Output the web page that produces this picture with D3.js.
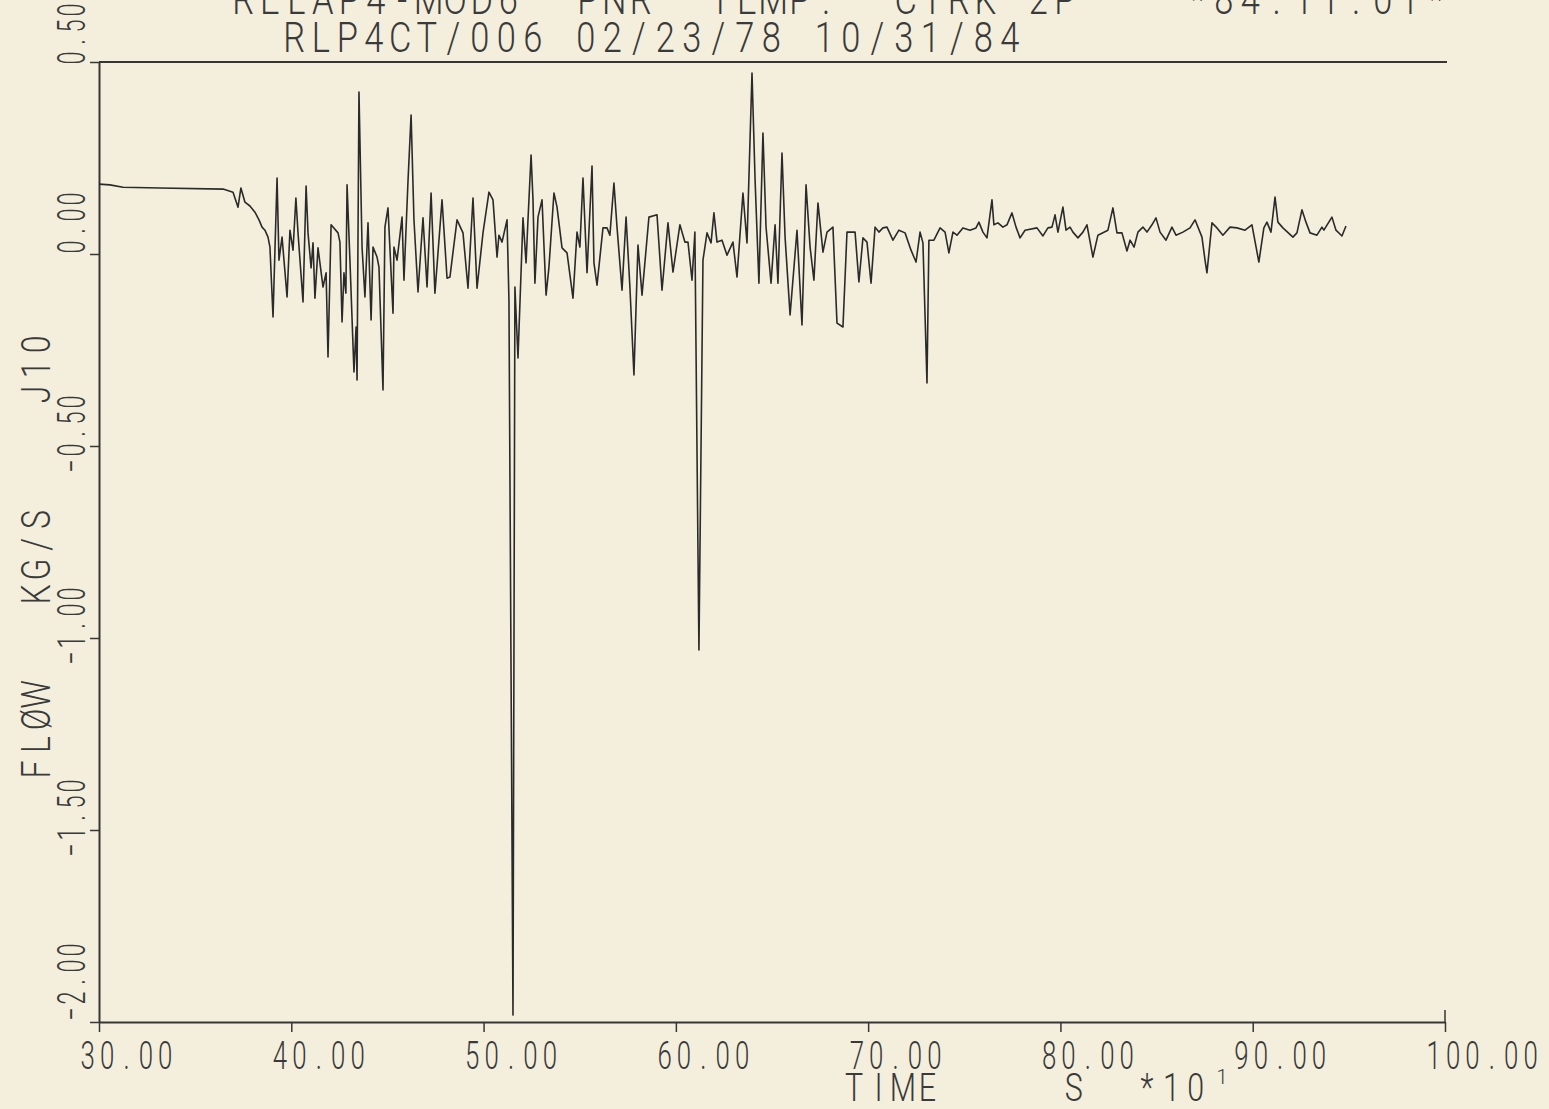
<!DOCTYPE html>
<html>
<head>
<meta charset="utf-8">
<script src="https://cdn.jsdelivr.net/npm/d3@7"></script>
<style>
html,body{margin:0;padding:0;background:#f3efdc;}
svg{display:block;}
text{font-family:"Roboto","DejaVu Sans",sans-serif;font-weight:300;fill:#3a3a3a;white-space:pre;}
</style>
</head>
<body>
<svg id="chart" width="1549" height="1109"></svg>
<script>
// ---- data (time in s*10^1, flow in kg/s) ----
const time = [30.00,30.57,31.25,33.17,36.45,36.97,37.23,37.38,37.59,37.85,38.11,38.32,38.48,38.63,38.79,38.89,39.05,39.15,39.26,39.36,39.52,39.78,39.93,40.09,40.24,40.35,40.61,40.77,40.87,41.03,41.13,41.23,41.39,41.65,41.81,41.91,42.07,42.43,42.53,42.64,42.74,42.84,42.90,43.05,43.26,43.37,43.42,43.52,43.68,43.83,43.99,44.15,44.25,44.46,44.56,44.77,44.87,45.03,45.29,45.34,45.50,45.76,45.86,46.07,46.23,46.38,46.59,46.85,47.06,47.27,47.47,47.84,48.10,48.25,48.62,48.93,49.19,49.45,49.66,49.97,50.28,50.49,50.70,50.80,50.96,51.22,51.32,51.53,51.63,51.79,52.05,52.21,52.31,52.47,52.57,52.67,52.83,53.04,53.25,53.40,53.66,53.82,54.08,54.34,54.65,54.86,55.01,55.17,55.38,55.64,55.74,55.90,56.21,56.42,56.57,56.78,56.94,57.20,57.41,57.61,57.82,58.03,58.24,58.60,59.02,59.28,59.59,59.85,60.21,60.47,60.63,60.84,60.99,61.20,61.41,61.62,61.83,61.98,62.14,62.40,62.66,62.97,63.18,63.49,63.70,63.96,64.12,64.32,64.53,64.69,64.95,65.16,65.31,65.52,65.68,65.94,66.30,66.56,66.77,66.98,67.18,67.39,67.65,67.86,68.17,68.38,68.69,68.90,69.32,69.52,69.73,69.94,70.15,70.36,70.56,70.77,70.98,71.29,71.60,71.92,72.23,72.49,72.70,72.85,73.06,73.16,73.42,73.74,74.00,74.20,74.41,74.62,74.93,75.30,75.61,75.76,75.97,76.18,76.44,76.54,76.75,77.01,77.22,77.48,77.69,77.90,78.16,78.78,79.09,79.35,79.56,79.72,79.87,80.13,80.29,80.50,80.65,80.91,81.17,81.38,81.69,81.95,82.47,82.73,82.94,83.20,83.46,83.62,83.83,84.03,84.29,84.50,84.76,84.97,85.18,85.49,85.80,86.01,86.37,86.74,87.00,87.36,87.52,87.62,87.88,88.14,88.45,88.82,89.18,89.60,89.96,90.32,90.58,90.74,90.95,91.16,91.31,91.57,92.09,92.30,92.56,92.77,92.98,93.34,93.60,93.70,94.12,94.33,94.64,94.85];
const flow = [0.182,0.180,0.174,0.172,0.169,0.161,0.122,0.172,0.135,0.125,0.109,0.089,0.070,0.062,0.044,0.018,-0.164,0.010,0.198,-0.016,0.044,-0.112,0.062,0.010,0.146,0.055,-0.125,0.177,0.055,-0.036,0.029,-0.115,0.016,-0.086,-0.049,-0.268,0.076,0.055,0.031,-0.177,-0.049,-0.102,0.180,-0.016,-0.307,-0.190,-0.328,0.422,0.018,-0.112,0.081,-0.172,0.018,-0.008,-0.034,-0.354,0.070,0.120,-0.154,0.018,-0.016,0.096,-0.068,0.190,0.362,0.089,-0.099,0.094,-0.086,0.159,-0.102,0.141,-0.063,-0.060,0.089,0.055,-0.089,0.146,-0.089,0.055,0.161,0.141,-0.008,0.049,0.031,0.089,-0.120,-1.982,-0.086,-0.271,0.094,-0.023,0.089,0.258,0.141,-0.076,0.096,0.141,-0.107,-0.034,0.159,0.122,0.016,0.003,-0.115,0.057,0.018,0.198,-0.049,0.229,-0.023,-0.081,0.068,0.068,0.049,0.185,0.070,-0.094,0.096,-0.086,-0.315,0.023,-0.107,0.096,0.102,-0.094,0.081,-0.047,0.076,0.031,0.031,-0.068,0.057,-1.031,-0.016,0.055,0.029,0.107,0.031,0.036,-0.003,0.031,-0.060,0.159,0.029,0.471,0.193,-0.076,0.315,0.070,-0.076,0.076,-0.076,0.263,0.044,-0.159,0.062,-0.185,0.180,0.018,-0.068,0.133,0.005,0.057,0.070,-0.180,-0.190,0.057,0.057,-0.073,0.042,0.031,-0.076,0.070,0.057,0.068,0.070,0.036,0.062,0.055,0.010,-0.021,0.057,0.029,-0.336,0.036,0.036,0.068,0.057,0.003,0.057,0.049,0.068,0.062,0.068,0.083,0.057,0.042,0.141,0.076,0.081,0.070,0.076,0.107,0.070,0.042,0.062,0.068,0.047,0.068,0.070,0.102,0.057,0.122,0.062,0.070,0.057,0.042,0.057,0.076,-0.008,0.049,0.062,0.120,0.055,0.055,0.008,0.036,0.018,0.057,0.070,0.057,0.076,0.094,0.057,0.036,0.070,0.049,0.057,0.068,0.089,0.044,-0.016,-0.049,0.081,0.068,0.049,0.070,0.068,0.062,0.076,-0.021,0.068,0.083,0.057,0.148,0.083,0.068,0.044,0.055,0.115,0.083,0.055,0.049,0.070,0.062,0.096,0.062,0.047,0.073];

const xTicks = [30,40,50,60,70,80,90,100];
const yTicks = [0.5,0,-0.5,-1,-1.5,-2];
const titleLine1 = "RELAP4-MOD6  PNR  TEMP.  CIRK 2P    *84.11.01*";
const titleLine2 = "RLP4CT/006 02/23/78 10/31/84";
const yTitle = "FLØW   KG/S    J10";
const xTitle = "TIME     S  *10";
const xTitleExp = "1";

// ---- drawing ----
const svg = d3.select("#chart");
const ink = "#363636";
const x = d3.scaleLinear().domain([30,100]).range([99,1445]);
const y = d3.scaleLinear().domain([-2,0.5]).range([1022,62]);
const fmt = d3.format(".2f");

// plotter-style fixed-pitch text: every character centred in its own cell
function mono(parent, str, x0, y0, adv, size, sx, rotated){
  const g = parent.append("g")
    .attr("transform", `translate(${x0},${y0})` + (rotated ? " rotate(-90)" : ""));
  const chars = Array.from(str);
  g.append("text").attr("transform",`scale(${sx},1)`)
    .attr("text-anchor","middle").style("font-size",size+"px")
    .attr("x", chars.map((c,i)=>((i+0.5)*adv/sx).toFixed(2)).join(" "))
    .attr("y",0).text(str);
  return g;
}

// top frame line
svg.append("line").attr("x1",x(30)).attr("x2",x(100)+2)
  .attr("y1",y(0.5)).attr("y2",y(0.5)).attr("stroke",ink).attr("stroke-width",2);

// bottom axis
const xAxis = d3.axisBottom(x).tickValues(xTicks).tickSize(10).tickSizeOuter(0).tickFormat(fmt);
const gx = svg.append("g").attr("transform",`translate(0,${y(-2)})`).call(xAxis);
gx.select(".domain").attr("stroke",ink).attr("stroke-width",2);
gx.selectAll(".tick line").attr("stroke",ink).attr("stroke-width",1.5);
gx.selectAll(".tick text").remove();
xTicks.forEach(t=>mono(svg, fmt(t), x(t)-21, 1069, 19.4, 38, 0.68, false));
// end tick going up at 100
svg.append("line").attr("x1",x(100)).attr("x2",x(100)).attr("y1",y(-2)-12).attr("y2",y(-2))
  .attr("stroke",ink).attr("stroke-width",1.5);

// left axis
const yAxis = d3.axisLeft(y).tickValues(yTicks).tickSize(9).tickSizeOuter(0).tickFormat(fmt);
const gy = svg.append("g").attr("transform",`translate(${x(30)},0)`).call(yAxis);
gy.select(".domain").attr("stroke",ink).attr("stroke-width",2);
gy.selectAll(".tick line").attr("stroke",ink).attr("stroke-width",1.5);
gy.selectAll(".tick text").remove();
yTicks.forEach(t=>{
  const lbl = fmt(t);
  let start = t < 0 ? y(t) + 28 : y(t) + 1;
  start = Math.max(Math.min(start, 1022), lbl.length*16 + 2);
  mono(svg, lbl, 85, start, 16, 38, 0.62, true);
});

// data line
const line = d3.line().x((d,i)=>x(time[i])).y(d=>y(d));
svg.append("path").datum(flow).attr("d",line).attr("fill","none")
  .attr("stroke","#2a2a2a").attr("stroke-width",1.6).attr("stroke-linejoin","round");

// titles (first line partly cut off at the top, as in the plot)
mono(svg, titleLine1, 230, 14, 26.5, 42, 0.82, false);
mono(svg, titleLine2, 281, 52, 26.5, 42, 0.82, false);

// y title (rotated)
mono(svg, yTitle, 50, 782, 25, 40, 0.8, true);

// x title
mono(svg, xTitle, 842, 1101, 24.4, 38, 0.8, false);
svg.append("text").attr("x",1222).attr("y",1084).attr("text-anchor","middle")
  .style("font-size","20px").text(xTitleExp);
</script>
</body>
</html>
